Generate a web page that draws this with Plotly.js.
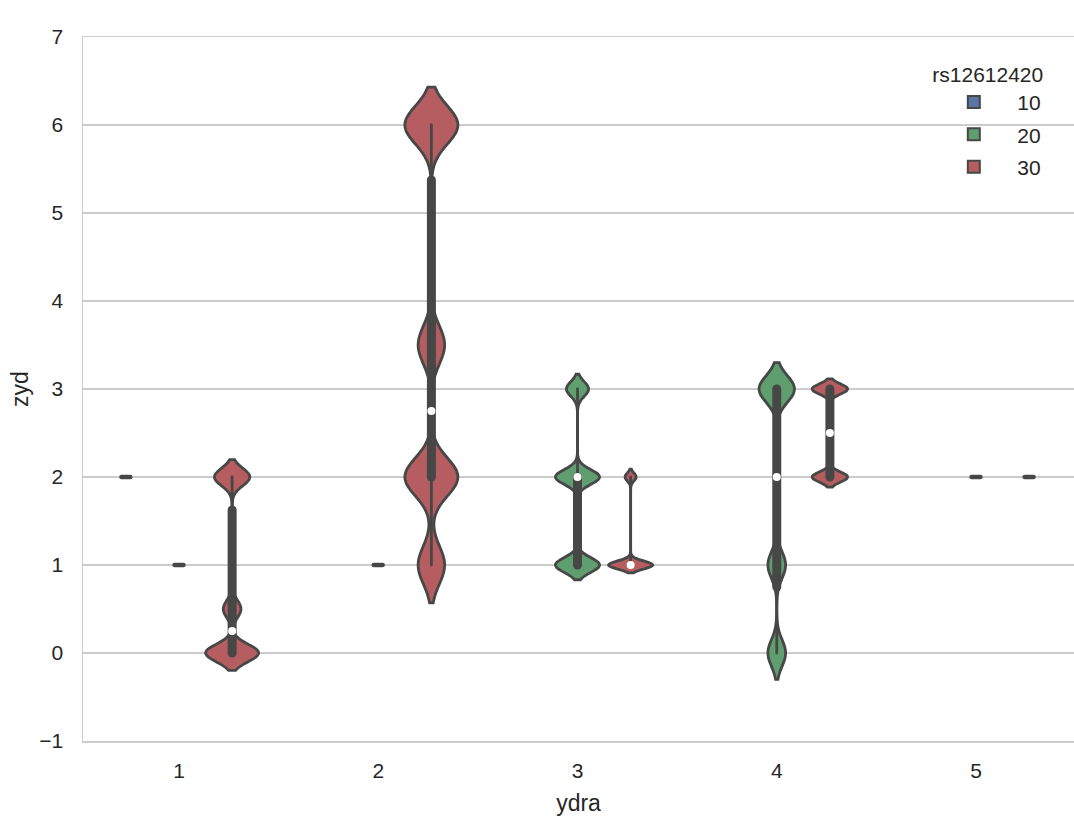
<!DOCTYPE html>
<html><head><meta charset="utf-8">
<script src="https://cdn.plot.ly/plotly-3.0.1.min.js"></script>
<style>
html,body{margin:0;padding:0;background:#fff;}
#chart{width:1074px;height:822px;}
#chart .scatterlayer .js-line{stroke-linecap:round;}
</style></head><body><div id="chart"></div>
<script>
// ---- data ----
const categories = [1, 2, 3, 4, 5];
const hueLevels = ['10', '20', '30'];
const hue10Values = [[2], [], [], [], []];
const hue20Values = [[1], [1], [1, 1, 2, 2, 3], [0, 1, 3, 3], [2]];
const hue30Values = [[0, 0, 0, 0.5, 2, 2], [1, 2, 2, 3.5, 6, 6], [1, 1, 1, 1, 2], [2, 2, 3, 3], [2]];
const yTickValues = [-1, 0, 1, 2, 3, 4, 5, 6, 7];

// ---- style ----
const fills = ['#5875A4', '#5F9E6E', '#B55D60'];
const gray = '#474747';
const FONT = '"Liberation Sans", Arial, Helvetica, sans-serif';
const textColor = '#262626';

const series = [hue10Values, hue20Values, hue30Values];
const groupWidth = 0.8;
const hueWidth = groupWidth / hueLevels.length;
const maxN = Math.max(...series.flat().map(v => v.length));

function quantile(sorted, p) {
  const idx = p * (sorted.length - 1);
  const lo = Math.floor(idx), hi = Math.ceil(idx);
  return sorted[lo] + (sorted[hi] - sorted[lo]) * (idx - lo);
}
function stdev(v) {
  const m = v.reduce((a, b) => a + b, 0) / v.length;
  return Math.sqrt(v.reduce((a, b) => a + (b - m) * (b - m), 0) / (v.length - 1));
}

const violins = [];
const overlays = [];
series.forEach((ser, h) => {
  ser.forEach((vals, c) => {
    if (!vals.length) return;
    const pos = categories[c] + (h - (hueLevels.length - 1) / 2) * hueWidth;
    const w = hueWidth * vals.length / maxN;
    if (vals.length === 1) {
      overlays.push({
        type: 'scatter', mode: 'lines', x: [pos - w / 2, pos + w / 2], y: [vals[0], vals[0]],
        line: {color: gray, width: 4.5}, showlegend: false, hoverinfo: 'skip'
      });
      return;
    }
    violins.push({
      type: 'violin', x: vals.map(() => pos), y: vals, width: w,
      bandwidth: 0.1 * stdev(vals), spanmode: 'soft',
      fillcolor: fills[h], line: {color: gray, width: 2.8},
      points: false, box: {visible: false}, meanline: {visible: false},
      showlegend: false, hoverinfo: 'skip', legendgroup: hueLevels[h]
    });
    const s = vals.slice().sort((a, b) => a - b);
    const q1 = quantile(s, 0.25), q2 = quantile(s, 0.5), q3 = quantile(s, 0.75);
    overlays.push({
      type: 'scatter', mode: 'lines', x: [pos, pos], y: [s[0], s[s.length - 1]],
      line: {color: gray, width: 2.8}, showlegend: false, hoverinfo: 'skip'
    });
    if (q3 > q1) {
      overlays.push({
        type: 'scatter', mode: 'lines', x: [pos, pos], y: [q1, q3],
        line: {color: gray, width: 9}, showlegend: false, hoverinfo: 'skip'
      });
    }
    overlays.push({
      type: 'scatter', mode: 'markers', x: [pos], y: [q2],
      marker: {color: '#ffffff', size: 8, line: {width: 0}}, showlegend: false, hoverinfo: 'skip'
    });
  });
});

const legendTraces = hueLevels.map((lv, h) => ({
  type: 'bar', x: [null], y: [null], name: lv, legendgroup: lv,
  marker: {color: fills[h], line: {color: gray, width: 2}}, hoverinfo: 'skip'
}));

const layout = {
  width: 1074, height: 822,
  margin: {l: 83, r: 0, t: 37, b: 81},
  paper_bgcolor: '#ffffff', plot_bgcolor: '#ffffff',
  font: {family: FONT, color: textColor, size: 21},
  showlegend: true,
  violinmode: 'overlay',
  xaxis: {
    range: [0.5182, 5.4918], tickvals: categories, ticktext: categories.map(String),
    showgrid: false, zeroline: false, showline: true, mirror: true,
    linecolor: '#cccccc', linewidth: 1.5,
    ticks: 'outside', ticklen: 10, tickcolor: 'rgba(0,0,0,0)',
    tickfont: {family: FONT, size: 21, color: textColor},
    title: {text: 'ydra', font: {family: FONT, size: 23, color: textColor}, standoff: 14}
  },
  yaxis: {
    range: [-1, 7], tickvals: yTickValues, ticktext: yTickValues.map(v => v < 0 ? '\u2212' + Math.abs(v) : String(v)),
    showgrid: true, gridcolor: '#cccccc', gridwidth: 1.5,
    zeroline: false, showline: true, linecolor: '#cccccc', linewidth: 1.5,
    ticks: 'outside', ticklen: 14, tickcolor: 'rgba(0,0,0,0)',
    tickfont: {family: FONT, size: 21, color: textColor},
    title: {text: 'zyd', font: {family: FONT, size: 23, color: textColor}, standoff: 4}
  },
  legend: {
    x: 0.855, xanchor: 'left', y: 0.975, yanchor: 'top',
    bgcolor: 'rgba(255,255,255,0)', borderwidth: 0,
    traceorder: 'grouped', tracegroupgap: 2, itemwidth: 77,
    font: {family: FONT, size: 21, color: textColor},
    title: {text: 'rs12612420', side: 'top', font: {family: FONT, size: 21, color: textColor}}
  }
};

Plotly.newPlot('chart', [...violins, ...legendTraces, ...overlays], layout, {staticPlot: true, displayModeBar: false});
</script></body></html>
